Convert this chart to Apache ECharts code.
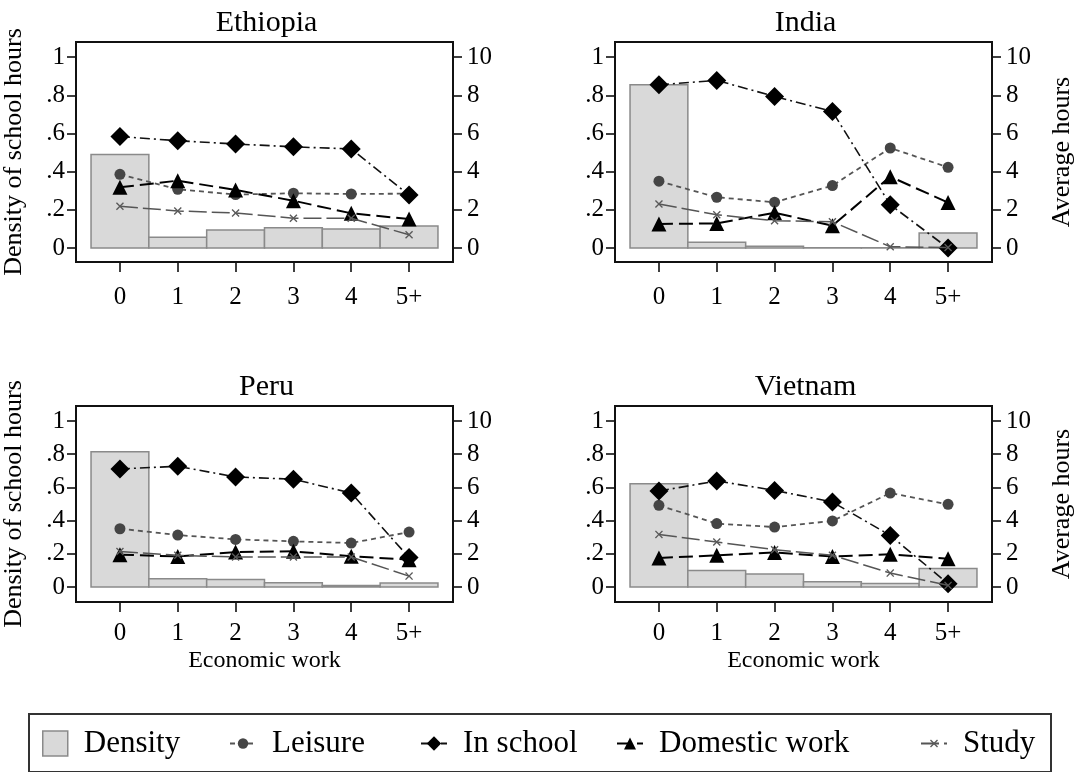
<!DOCTYPE html>
<html>
<head>
<meta charset="utf-8">
<script src="https://cdn.jsdelivr.net/npm/echarts@6/dist/echarts.min.js"></script>
<style>
html,body{margin:0;padding:0;background:#fff;}
#chart{width:1082px;height:772px;}
</style>
</head>
<body>
<div id="chart"></div>
<script>
// ---------- DATA ----------
const categories = ['0', '1', '2', '3', '4', '5+'];
const countries = ['Ethiopia', 'India', 'Peru', 'Vietnam'];
const seriesNames = ['Density', 'Leisure', 'In school', 'Domestic work', 'Study'];

const leftTickValues = [0, 0.2, 0.4, 0.6, 0.8, 1];
const leftTickLabels = ['0', '.2', '.4', '.6', '.8', '1'];
const rightTickValues = [0, 2, 4, 6, 8, 10];
const rightTickLabels = ['0', '2', '4', '6', '8', '10'];

// density of school hours (left axis)
const densityEthiopia = [0.49, 0.056, 0.094, 0.107, 0.10, 0.115];
const densityIndia    = [0.855, 0.03, 0.009, 0.002, 0.001, 0.079];
const densityPeru     = [0.815, 0.05, 0.046, 0.026, 0.01, 0.024];
const densityVietnam  = [0.622, 0.10, 0.078, 0.032, 0.022, 0.112];

// average hours (right axis)
const leisureEthiopia  = [3.86, 3.08, 2.80, 2.87, 2.83, 2.85];
const inSchoolEthiopia = [5.84, 5.62, 5.45, 5.30, 5.19, 2.78];
const domesticEthiopia = [3.18, 3.53, 3.04, 2.48, 1.82, 1.52];
const studyEthiopia    = [2.19, 1.94, 1.84, 1.56, 1.56, 0.70];

const leisureIndia  = [3.50, 2.66, 2.40, 3.27, 5.24, 4.23];
const inSchoolIndia = [8.55, 8.78, 7.94, 7.15, 2.27, 0.0];
const domesticIndia = [1.26, 1.29, 1.85, 1.17, 3.74, 2.38];
const studyIndia    = [2.31, 1.74, 1.43, 1.38, 0.07, 0.03];

const leisurePeru  = [3.51, 3.13, 2.87, 2.75, 2.65, 3.31];
const inSchoolPeru = [7.11, 7.27, 6.63, 6.49, 5.66, 1.78];
const domesticPeru = [1.95, 1.84, 2.11, 2.15, 1.85, 1.65];
const studyPeru    = [2.14, 1.91, 1.81, 1.81, 1.81, 0.66];

const leisureVietnam  = [4.92, 3.82, 3.61, 3.98, 5.66, 4.98];
const inSchoolVietnam = [5.78, 6.39, 5.82, 5.12, 3.11, 0.20];
const domesticVietnam = [1.75, 1.91, 2.08, 1.84, 1.97, 1.71];
const studyVietnam    = [3.17, 2.71, 2.25, 1.91, 0.84, 0.10];

const panelData = {
  Ethiopia: {density: densityEthiopia, leisure: leisureEthiopia, school: inSchoolEthiopia, domestic: domesticEthiopia, study: studyEthiopia},
  India:    {density: densityIndia, leisure: leisureIndia, school: inSchoolIndia, domestic: domesticIndia, study: studyIndia},
  Peru:     {density: densityPeru, leisure: leisurePeru, school: inSchoolPeru, domestic: domesticPeru, study: studyPeru},
  Vietnam:  {density: densityVietnam, leisure: leisureVietnam, school: inSchoolVietnam, domestic: domesticVietnam, study: studyVietnam}
};

// ---------- LAYOUT / STYLE ----------
const FONT = 'Liberation Serif';
const grids = [
  {left: 76,  top: 42,  width: 377, height: 220, yMin: -0.073, yMax: 1.079, xLabelMargin: 23},
  {left: 615, top: 42,  width: 377, height: 220, yMin: -0.073, yMax: 1.079, xLabelMargin: 23},
  {left: 76,  top: 406, width: 377, height: 196, yMin: -0.09,  yMax: 1.09,  xLabelMargin: 19},
  {left: 615, top: 406, width: 377, height: 196, yMin: -0.09,  yMax: 1.09,  xLabelMargin: 19}
];
const xMin = -0.76, xMax = 5.76;

const xTickValues = categories.map((c, i) => i);
const pairs = arr => arr.map((v, i) => [i, v]);

const xSymbol = 'path://M0,1.2 L1.2,0 L5,3.8 L8.8,0 L10,1.2 L6.2,5 L10,8.8 L8.8,10 L5,6.2 L1.2,10 L0,8.8 L3.8,5 Z';

const styles = {
  'Leisure':       {symbol: 'circle',   size: 11, color: '#454545', line: {color: '#555', width: 1.8, type: [5, 4]}},
  'In school':     {symbol: 'diamond',  size: 19, color: '#000',    line: {color: '#111', width: 1.6, type: [10, 4, 2, 4]}},
  'Domestic work': {symbol: 'triangle', size: 15, color: '#000',    line: {color: '#000', width: 2,   type: [14, 6]}},
  'Study':         {symbol: xSymbol,    size: 8,  color: '#5a5a5a', line: {color: '#555', width: 1.5, type: [18, 5]}}
};

const option = {
  backgroundColor: '#fff',
  animation: false,
  textStyle: {fontFamily: FONT, color: '#000'},
  title: [],
  grid: [],
  xAxis: [],
  yAxis: [],
  series: [],
  legend: [],
  graphic: []
};

countries.forEach((country, g) => {
  const G = grids[g];
  const isLeft = g % 2 === 0;
  const isBottom = g >= 2;
  option.title.push({
    text: country,
    left: G.left + G.width / 2 - 3,
    top: G.top - 39,
    textAlign: 'center',
    textStyle: {fontFamily: FONT, fontSize: 30, fontWeight: 'normal', color: '#000'}
  });
  option.grid.push({
    left: G.left, top: G.top, width: G.width, height: G.height,
    outerBoundsMode: 'none', containLabel: false,
    show: true, borderColor: '#111', borderWidth: 2, backgroundColor: 'transparent', z: 10
  });
  option.xAxis.push({
    type: 'value', gridIndex: g, min: xMin, max: xMax,
    axisLine: {show: false, onZero: false},
    splitLine: {show: false},
    axisTick: {show: true, length: 10, lineStyle: {color: '#000', width: 1.5}, customValues: xTickValues},
    axisLabel: {
      fontFamily: FONT, fontSize: 25, color: '#000', margin: G.xLabelMargin,
      customValues: xTickValues,
      formatter: v => categories[Math.round(v)]
    },
    name: isBottom ? 'Economic work' : '',
    nameLocation: 'middle', nameGap: 47,
    nameTextStyle: {fontFamily: FONT, fontSize: 24, color: '#000'}
  });
  option.yAxis.push({
    type: 'value', gridIndex: g, position: 'left', min: G.yMin, max: G.yMax,
    axisLine: {show: false, onZero: false},
    splitLine: {show: false},
    axisTick: {show: true, length: 9, lineStyle: {color: '#000', width: 1.5}, customValues: leftTickValues},
    axisLabel: {
      fontFamily: FONT, fontSize: 25, color: '#000', margin: 11,
      customValues: leftTickValues,
      formatter: v => leftTickLabels[leftTickValues.indexOf(v)]
    },
    name: isLeft ? 'Density of school hours' : '',
    nameLocation: 'middle', nameRotate: 90, nameGap: 49,
    nameTextStyle: {fontFamily: FONT, fontSize: 26, color: '#000'}
  });
  option.yAxis.push({
    type: 'value', gridIndex: g, position: 'right', min: G.yMin * 10, max: G.yMax * 10,
    axisLine: {show: false, onZero: false},
    splitLine: {show: false},
    axisTick: {show: true, length: 9, lineStyle: {color: '#000', width: 1.5}, customValues: rightTickValues},
    axisLabel: {
      fontFamily: FONT, fontSize: 25, color: '#000', margin: 14,
      customValues: rightTickValues,
      formatter: v => rightTickLabels[rightTickValues.indexOf(v)]
    },
    name: isLeft ? '' : 'Average hours',
    nameLocation: 'middle', nameRotate: 90, nameGap: 57,
    nameTextStyle: {fontFamily: FONT, fontSize: 26, color: '#000'}
  });

  const d = panelData[country];
  option.series.push({
    name: 'Density', type: 'custom', xAxisIndex: g, yAxisIndex: g * 2,
    itemStyle: {color: '#d9d9d9', borderColor: '#8a8a8a', borderWidth: 1.5},
    renderItem: (params, api) => {
      const x = api.value(0), v = api.value(1);
      const p1 = api.coord([x - 0.5, v]);
      const p2 = api.coord([x + 0.5, 0]);
      return {
        type: 'rect',
        shape: {x: p1[0], y: p1[1], width: p2[0] - p1[0], height: p2[1] - p1[1]},
        style: {fill: '#d9d9d9', stroke: '#8a8a8a', lineWidth: 1.5}
      };
    },
    data: pairs(d.density),
    z: 1
  });
  const lineDefs = [['Leisure', d.leisure], ['In school', d.school], ['Domestic work', d.domestic], ['Study', d.study]];
  lineDefs.forEach(([name, arr], k) => {
    const s = styles[name];
    option.series.push({
      name: name, type: 'line', xAxisIndex: g, yAxisIndex: g * 2 + 1,
      data: pairs(arr),
      symbol: s.symbol, symbolSize: s.size,
      itemStyle: {color: s.color, borderColor: s.color, borderWidth: 0},
      lineStyle: s.line,
      z: 3 + k
    });
  });
});

// legend: one component per item
const legendLefts = [42, 229, 420, 616, 920];
const legendIconHeights = [25, 13, 18, 15, 10];
seriesNames.forEach((name, i) => {
  const L = {
    data: [name], left: legendLefts[i], top: 728,
    itemWidth: 26, itemHeight: legendIconHeights[i], padding: 0,
    textStyle: {fontFamily: FONT, fontSize: 31, color: '#000', padding: [0, 0, 0, 11]},
    selectedMode: false
  };
  if (name === 'Density') {
    L.icon = 'rect';
    L.itemWidth = 25;
    L.itemStyle = {color: '#d9d9d9', borderColor: '#8a8a8a', borderWidth: 1.5};
  }
  option.legend.push(L);
});

option.graphic.push({
  type: 'rect', left: 28, top: 713,
  shape: {width: 1022, height: 58},
  style: {fill: 'transparent', stroke: '#333', lineWidth: 2},
  silent: true
});

const chart = echarts.init(document.getElementById('chart'), null, {renderer: 'canvas'});
chart.setOption(option);
</script>
</body>
</html>
